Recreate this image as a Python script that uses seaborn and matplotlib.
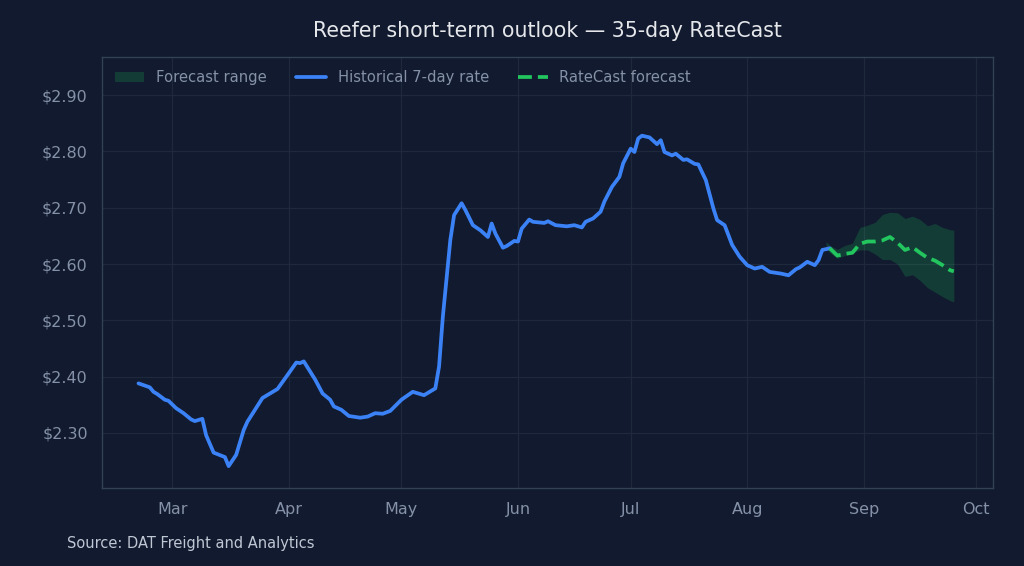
import matplotlib
matplotlib.use("Agg")
import matplotlib.pyplot as plt
import matplotlib.dates as mdates
from matplotlib.ticker import FuncFormatter
from matplotlib.patches import Patch
from matplotlib.lines import Line2D
import seaborn as sns
import pandas as pd

# ---------------- data ----------------
hist_dates = [
    "2025-02-20", "2025-02-23", "2025-02-24", "2025-02-25", "2025-02-27", "2025-02-28",
    "2025-03-02", "2025-03-04", "2025-03-06", "2025-03-07", "2025-03-09", "2025-03-10",
    "2025-03-12", "2025-03-15", "2025-03-16", "2025-03-18", "2025-03-20", "2025-03-21",
    "2025-03-23", "2025-03-25", "2025-03-27", "2025-03-29", "2025-04-01", "2025-04-03",
    "2025-04-04", "2025-04-05", "2025-04-08", "2025-04-10", "2025-04-12", "2025-04-13",
    "2025-04-15", "2025-04-17", "2025-04-20", "2025-04-22", "2025-04-24", "2025-04-26",
    "2025-04-28", "2025-05-01", "2025-05-04", "2025-05-07", "2025-05-10", "2025-05-11",
    "2025-05-12", "2025-05-14", "2025-05-15", "2025-05-17", "2025-05-18", "2025-05-20",
    "2025-05-22", "2025-05-24", "2025-05-25", "2025-05-26", "2025-05-28", "2025-05-29",
    "2025-05-31", "2025-06-01", "2025-06-02", "2025-06-04", "2025-06-05", "2025-06-08",
    "2025-06-09", "2025-06-11", "2025-06-14", "2025-06-16", "2025-06-18", "2025-06-19",
    "2025-06-21", "2025-06-23", "2025-06-24", "2025-06-26", "2025-06-28", "2025-06-29",
    "2025-07-01", "2025-07-02", "2025-07-03", "2025-07-04", "2025-07-06", "2025-07-08",
    "2025-07-09", "2025-07-10", "2025-07-12", "2025-07-13", "2025-07-15", "2025-07-16",
    "2025-07-18", "2025-07-19", "2025-07-21", "2025-07-23", "2025-07-24", "2025-07-26",
    "2025-07-28", "2025-07-30", "2025-08-01", "2025-08-03", "2025-08-05", "2025-08-07",
    "2025-08-10", "2025-08-12", "2025-08-14", "2025-08-15", "2025-08-17", "2025-08-19",
    "2025-08-20", "2025-08-21", "2025-08-23",
]
hist_rate = [
    2.388, 2.381, 2.373, 2.369, 2.359, 2.357,
    2.344, 2.335, 2.324, 2.321, 2.325, 2.296,
    2.265, 2.257, 2.241, 2.261, 2.305, 2.320,
    2.341, 2.362, 2.370, 2.378, 2.406, 2.425,
    2.424, 2.427, 2.395, 2.370, 2.359, 2.347,
    2.341, 2.330, 2.327, 2.329, 2.335, 2.334,
    2.339, 2.359, 2.373, 2.367, 2.379, 2.418,
    2.506, 2.643, 2.687, 2.708, 2.696, 2.669,
    2.660, 2.648, 2.672, 2.654, 2.629, 2.632,
    2.641, 2.640, 2.663, 2.679, 2.675, 2.673,
    2.676, 2.669, 2.667, 2.669, 2.665, 2.675,
    2.681, 2.693, 2.711, 2.737, 2.755, 2.779,
    2.805, 2.799, 2.823, 2.828, 2.825, 2.813,
    2.820, 2.799, 2.793, 2.796, 2.785, 2.786,
    2.778, 2.777, 2.749, 2.699, 2.678, 2.669,
    2.634, 2.613, 2.598, 2.592, 2.595, 2.586,
    2.583, 2.580, 2.591, 2.594, 2.604, 2.598,
    2.607, 2.625, 2.628,
]

fc_dates = [
    "2025-08-22", "2025-08-23", "2025-08-25", "2025-08-27", "2025-08-29", "2025-08-31",
    "2025-09-02", "2025-09-04", "2025-09-06", "2025-09-08", "2025-09-10", "2025-09-12",
    "2025-09-14", "2025-09-16", "2025-09-18", "2025-09-20", "2025-09-22", "2025-09-24",
    "2025-09-25",
]
fc_mid = [2.627, 2.628, 2.615, 2.618, 2.620, 2.636, 2.640, 2.640, 2.642, 2.648, 2.638, 2.625,
          2.630, 2.620, 2.611, 2.606, 2.598, 2.589, 2.587]
fc_hi = [2.640, 2.633, 2.626, 2.633, 2.637, 2.665, 2.669, 2.674, 2.688, 2.692, 2.691, 2.681,
         2.685, 2.679, 2.668, 2.672, 2.665, 2.661, 2.660]
fc_lo = [2.627, 2.620, 2.610, 2.615, 2.620, 2.625, 2.625, 2.618, 2.608, 2.608, 2.600, 2.578,
         2.581, 2.571, 2.558, 2.550, 2.542, 2.535, 2.533]

x_range = ["2025-02-10 05:00", "2025-10-05 12:00"]
title = "Reefer short-term outlook \u2014 35-day RateCast"
source = "Source: DAT Freight and Analytics"

# ---------------- style ----------------
BG = "#111a2e"
GRID = "#1e293b"
SPINE = "#334155"
TICK = "#8591a8"
BLUE = "#3b82f6"
GREEN = "#22c55e"

sns.set_theme(style="dark")
plt.rcParams["font.family"] = ["DejaVu Sans"]

hist = pd.DataFrame({"date": pd.to_datetime(hist_dates), "rate": hist_rate})
fc = pd.DataFrame({"date": pd.to_datetime(fc_dates), "mid": fc_mid, "lo": fc_lo, "hi": fc_hi})

fig = plt.figure(figsize=(10.24, 5.66), dpi=100, facecolor=BG)
ax = fig.add_axes([0.0993, 0.138, 0.8707, 0.761])
ax.set_facecolor(BG)

ax.fill_between(fc["date"], fc["lo"], fc["hi"], color=GREEN, alpha=0.2, linewidth=0, zorder=1)
sns.lineplot(data=hist, x="date", y="rate", ax=ax, color=BLUE, linewidth=2.7, zorder=3)
sns.lineplot(data=fc.iloc[1:], x="date", y="mid", ax=ax, color=GREEN, linewidth=2.7,
             linestyle="--", zorder=4)

ax.set_ylim(2.2023, 2.9675)
ax.set_xlim(pd.to_datetime(x_range[0]), pd.to_datetime(x_range[1]))
ax.set_yticks([2.3, 2.4, 2.5, 2.6, 2.7, 2.8, 2.9])
ax.yaxis.set_major_formatter(FuncFormatter(lambda v, p: f"${v:.2f}"))
ax.xaxis.set_major_locator(mdates.MonthLocator())
ax.xaxis.set_major_formatter(mdates.DateFormatter("%b"))
ax.set_xlabel("")
ax.set_ylabel("")

ax.grid(True, color=GRID, linewidth=0.9, zorder=0)
ax.set_axisbelow(True)
for s in ax.spines.values():
    s.set_visible(True)
    s.set_color(SPINE)
    s.set_linewidth(1.0)
ax.tick_params(axis="both", colors=TICK, labelsize=11.5, length=4, width=1, pad=6)
ax.tick_params(axis="both", color=SPINE)

handles = [
    Patch(facecolor=GREEN, alpha=0.2, edgecolor="none", label="Forecast range"),
    Line2D([0], [0], color=BLUE, linewidth=2.7, label="Historical 7-day rate"),
    Line2D([0], [0], color=GREEN, linewidth=2.7, linestyle="--", label="RateCast forecast"),
]
leg = ax.legend(handles=handles, loc="upper left", ncol=3, frameon=False, fontsize=10.6)
for t in leg.get_texts():
    t.set_color(TICK)

fig.text(0.535, 0.945, title, ha="center", va="center", color="#e5e7eb", fontsize=14.8)
fig.text(0.065, 0.04, source, ha="left", va="center", color="#c0c7d4", fontsize=10.5)

fig.savefig("out.png", dpi=100, facecolor=BG)
